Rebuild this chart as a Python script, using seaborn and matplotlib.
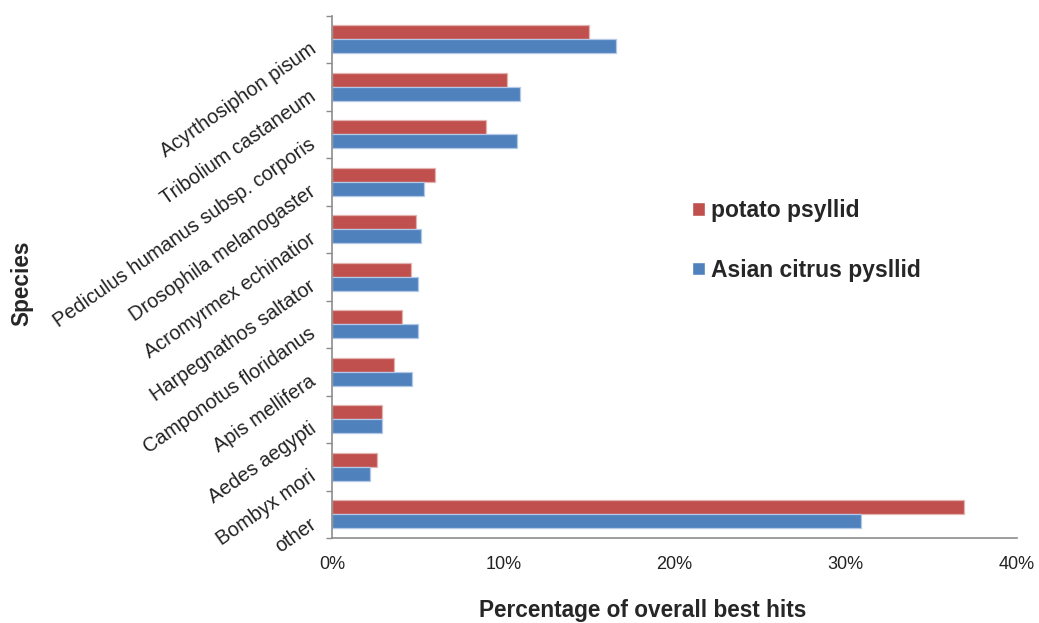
import numpy as np
import pandas as pd
import matplotlib
matplotlib.use("Agg")
import matplotlib.pyplot as plt
import seaborn as sns
from matplotlib.ticker import PercentFormatter

# Share of best BLAST hits per species for the two psyllid transcriptomes
species = [
    "Acyrthosiphon pisum",
    "Tribolium castaneum",
    "Pediculus humanus subsp. corporis",
    "Drosophila melanogaster",
    "Acromyrmex echinatior",
    "Harpegnathos saltator",
    "Camponotus floridanus",
    "Apis mellifera",
    "Aedes aegypti",
    "Bombyx mori",
    "other",
]
potato_psyllid = [15.0, 10.2, 9.0, 6.0, 4.9, 4.6, 4.1, 3.6, 2.9, 2.6, 36.9]
asian_citrus_psyllid = [16.6, 11.0, 10.8, 5.4, 5.2, 5.0, 5.0, 4.7, 2.9, 2.2, 30.9]
series_names = ["potato psyllid", "Asian citrus pysllid"]
x_ticks = [0, 10, 20, 30, 40]

df = pd.DataFrame({
    "Species": species * 2,
    "Percent": potato_psyllid + asian_citrus_psyllid,
    "Series": [series_names[0]] * len(species) + [series_names[1]] * len(species),
})

sns.set_style("white")
plt.rcParams["font.family"] = ["Liberation Sans", "DejaVu Sans"]

W, H = 1039, 623
fig = plt.figure(figsize=(W / 100, H / 100), dpi=100)
ax_left, ax_right, ax_top, ax_bottom = 332, 1017, 15.7, 538
ax = fig.add_axes([ax_left / W, 1 - ax_bottom / H,
                   (ax_right - ax_left) / W, (ax_bottom - ax_top) / H])

fill = {series_names[0]: "#C0504D", series_names[1]: "#4F81BD"}
rim = {series_names[0]: "#E3B3B2", series_names[1]: "#B3C8E6"}

sns.barplot(data=df, y="Species", x="Percent", hue="Series",
            order=species, hue_order=series_names, palette=fill,
            orient="h", width=0.59, saturation=1, ax=ax)

for name, container in zip(series_names, ax.containers):
    for bar in container:
        bar.set_edgecolor(rim[name])
        bar.set_linewidth(0.9)

# x axis: percentage scale
ax.set_xlim(0, 40)
ax.set_xticks(x_ticks)
ax.xaxis.set_major_formatter(PercentFormatter(decimals=0))
ax.tick_params(axis="x", which="major", direction="out", length=4,
               width=1, color="#8C8C8C", labelsize=13, pad=9,
               labelcolor="#222222")

# y axis: tick marks between categories, labels at category centres
ax.set_ylim(len(species) - 0.5, -0.5)
ax.set_yticks(np.arange(-0.5, len(species), 1.0))
ax.set_yticklabels([])
ax.set_yticks(np.arange(len(species)), minor=True)
ax.set_yticklabels(species, minor=True, rotation=35, ha="right",
                   va="top", rotation_mode="anchor", fontsize=14.3,
                   color="#222222")
ax.tick_params(axis="y", which="major", direction="out", length=4,
               width=1, color="#8C8C8C", left=True)
ax.tick_params(axis="y", which="minor", length=0, pad=17)

for side in ("top", "right"):
    ax.spines[side].set_visible(False)
for side in ("left", "bottom"):
    ax.spines[side].set_color("#8C8C8C")
    ax.spines[side].set_linewidth(1.2)

ax.set_xlabel("")
ax.set_ylabel("")
fig.text(643 / W, 1 - 611 / H, "Percentage of overall best hits",
         ha="center", va="center", fontsize=16.3, fontweight="bold")
fig.text(22 / W, 1 - 283 / H, "Species", rotation=90,
         ha="center", va="center", fontsize=16.3, fontweight="bold")

handles, labels = ax.get_legend_handles_labels()
ax.legend(handles, labels, loc="upper left",
          bbox_to_anchor=(692 / W, 1 - 199 / H),
          bbox_transform=fig.transFigure, frameon=False,
          prop={"weight": "bold", "size": 16.5},
          handlelength=0.55, handleheight=0.55, handletextpad=0.3,
          labelspacing=1.6, borderpad=0, borderaxespad=0)

fig.savefig("out.png", dpi=100, facecolor="white")
